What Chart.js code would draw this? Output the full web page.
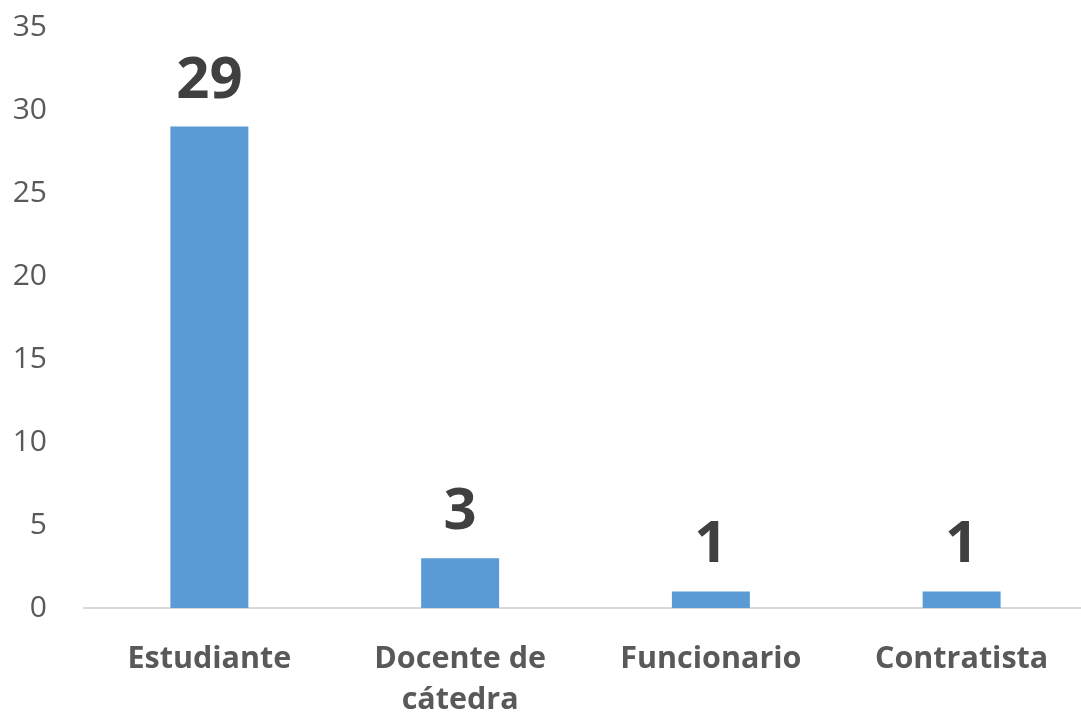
<!DOCTYPE html>
<html>
<head>
<meta charset="utf-8">
<script src="https://cdn.jsdelivr.net/npm/chart.js@4.4.1/dist/chart.umd.min.js"></script>
<style>
  html, body { margin: 0; padding: 0; background: #ffffff; overflow: hidden; }
  #wrap { position: relative; width: 1087px; height: 716px; }
</style>
</head>
<body>
<div id="wrap"><canvas id="chart"></canvas></div>
<script>
// Respondents by role
const categories = ['Estudiante', ['Docente de', 'cátedra'], 'Funcionario', 'Contratista'];
const counts = [29, 3, 1, 1];
const yTicks = [0, 5, 10, 15, 20, 25, 30, 35];

const FONT = '"Open Sans", "Liberation Sans", sans-serif';

// Draws each bar's value above it
const valueLabels = {
  id: 'valueLabels',
  afterDatasetsDraw(chart) {
    const ctx = chart.ctx;
    const meta = chart.getDatasetMeta(0);
    const values = chart.data.datasets[0].data;
    ctx.save();
    ctx.font = 'bold 58px ' + FONT;
    ctx.fillStyle = '#404040';
    ctx.textAlign = 'center';
    ctx.textBaseline = 'alphabetic';
    meta.data.forEach((bar, i) => {
      ctx.fillText(String(values[i]), bar.x, bar.y - 29);
    });
    ctx.restore();
  }
};

new Chart(document.getElementById('chart'), {
  type: 'bar',
  data: {
    labels: categories,
    datasets: [{
      data: counts,
      backgroundColor: '#5b9bd5',
      borderWidth: 0,
      categoryPercentage: 1,
      barPercentage: 0.311
    }]
  },
  options: {
    responsive: true,
    maintainAspectRatio: false,
    animation: false,
    layout: { padding: { top: 27, left: 0, right: 0, bottom: 0 } },
    plugins: { legend: { display: false }, tooltip: { enabled: false } },
    scales: {
      x: {
        grid: { display: false, drawTicks: false },
        border: { display: true, color: '#d9d9d9', width: 2 },
        ticks: {
          color: '#595959',
          font: { family: FONT, size: 30.5, weight: 'bold', lineHeight: 1.33 },
          padding: 31,
          maxRotation: 0,
          autoSkip: false
        },
        afterFit(scale) { scale.height = 108; }
      },
      y: {
        min: 0,
        max: 35,
        afterBuildTicks(scale) { scale.ticks = yTicks.map(v => ({ value: v })); },
        grid: { display: false, drawTicks: false },
        border: { display: false },
        ticks: {
          color: '#595959',
          font: { family: FONT, size: 30 },
          padding: 37
        },
        afterFit(scale) {
          scale.width = 84;
          scale.paddingTop = 0;
          scale.paddingBottom = 0;
        }
      }
    }
  },
  plugins: [valueLabels]
});
</script>
</body>
</html>
